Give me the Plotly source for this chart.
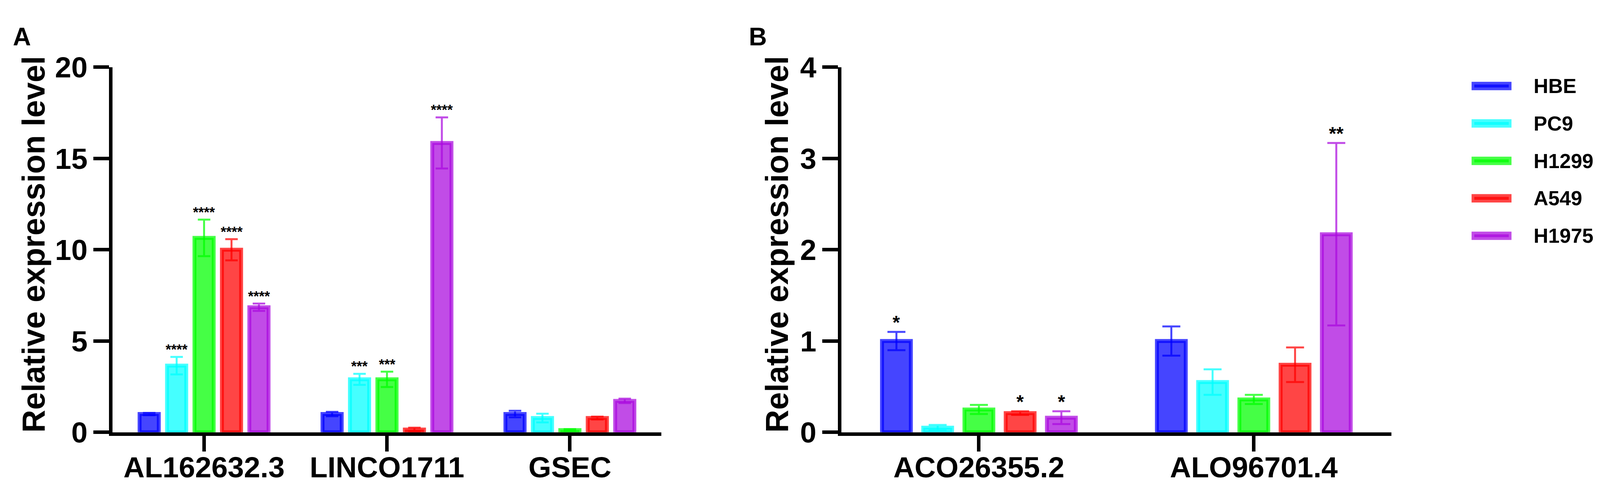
import numpy as np
import plotly.graph_objects as go

# cell lines (series) and their base colours
cells = ["HBE", "PC9", "H1299", "A549", "H1975"]
cell_rgb = ["0,0,255", "0,255,255", "0,255,0", "255,0,0", "170,10,222"]

# panel A
genes_a = ["AL162632.3", "LINCO1711", "GSEC"]
hbe_a = [1.0, 1.0, 1.0]
pc9_a = [3.65, 2.9, 0.78]
h1299_a = [10.65, 2.9, 0.12]
a549_a = [10.0, 0.15, 0.78]
h1975_a = [6.85, 15.85, 1.72]
hbe_a_sd = [0.06, 0.12, 0.18]
pc9_a_sd = [0.48, 0.3, 0.24]
h1299_a_sd = [1.0, 0.42, 0.05]
a549_a_sd = [0.58, 0.1, 0.08]
h1975_a_sd = [0.2, 1.4, 0.12]
hbe_a_sig = ["", "", ""]
pc9_a_sig = ["****", "***", ""]
h1299_a_sig = ["****", "***", ""]
a549_a_sig = ["****", "", ""]
h1975_a_sig = ["****", "****", ""]

# panel B
genes_b = ["ACO26355.2", "ALO96701.4"]
hbe_b = [1.0, 1.0]
pc9_b = [0.05, 0.55]
h1299_b = [0.25, 0.36]
a549_b = [0.21, 0.74]
h1975_b = [0.16, 2.17]
hbe_b_sd = [0.1, 0.16]
pc9_b_sd = [0.03, 0.14]
h1299_b_sd = [0.05, 0.05]
a549_b_sd = [0.02, 0.19]
h1975_b_sd = [0.07, 1.0]
hbe_b_sig = ["*", ""]
pc9_b_sig = ["", ""]
h1299_b_sig = ["", ""]
a549_b_sig = ["*", ""]
h1975_b_sig = ["*", "**"]

FONT = "Liberation Sans, Arial, Helvetica, sans-serif"
W, H = 4395, 1279
PITCH = 0.15
BAR_W = 0.105
ALPHA = 0.73

panels = [
    dict(xa="x", ya="y", genes=genes_a,
         means=[hbe_a, pc9_a, h1299_a, a549_a, h1975_a],
         sds=[hbe_a_sd, pc9_a_sd, h1299_a_sd, a549_a_sd, h1975_a_sd],
         sigs=[hbe_a_sig, pc9_a_sig, h1299_a_sig, a549_a_sig, h1975_a_sig],
         cap=16, star=36),
    dict(xa="x2", ya="y2", genes=genes_b,
         means=[hbe_b, pc9_b, h1299_b, a549_b, h1975_b],
         sds=[hbe_b_sd, pc9_b_sd, h1299_b_sd, a549_b_sd, h1975_b_sd],
         sigs=[hbe_b_sig, pc9_b_sig, h1299_b_sig, a549_b_sig, h1975_b_sig],
         cap=23, star=48),
]

fig = go.Figure()
notes = []
for p in panels:
    idx = np.arange(len(p["genes"]))
    for j, (cell, rgb) in enumerate(zip(cells, cell_rgb)):
        col = f"rgba({rgb},{ALPHA})"
        xpos = idx + (j - 2) * PITCH
        fig.add_trace(go.Bar(
            x=xpos, y=p["means"][j], width=BAR_W, name=cell, showlegend=False,
            marker=dict(color=col, line=dict(color=col, width=10)),
            error_y=dict(type="data", array=p["sds"][j], color=col,
                         thickness=5, width=p["cap"]),
            xaxis=p["xa"], yaxis=p["ya"]))
        for i, s in enumerate(p["sigs"][j]):
            if s:
                notes.append(dict(x=xpos[i], y=p["means"][j][i] + p["sds"][j][i],
                                  xref=p["xa"], yref=p["ya"], text=s, showarrow=False,
                                  yanchor="bottom", yshift=-4,
                                  font=dict(family=FONT, size=p["star"], color="black", weight="bold")))

# hand-made legend: wide swatches on the right
shapes = []
for k, (cell, rgb) in enumerate(zip(cells, cell_rgb)):
    col = f"rgba({rgb},{ALPHA})"
    yc = 182 + k * 102.5
    shapes.append(dict(type="rect", xref="paper", yref="paper",
                       x0=4057 / W, x1=4152 / W, y0=1 - (yc + 4) / H, y1=1 - (yc - 4) / H,
                       fillcolor=col, line=dict(color=col, width=14)))
    notes.append(dict(x=4218 / W, y=1 - yc / H, xref="paper", yref="paper", text=cell,
                      showarrow=False, xanchor="left", yanchor="middle",
                      font=dict(family=FONT, size=52, color="black", weight="bold")))

axis_style = dict(showline=True, linecolor="black", linewidth=9, ticks="outside",
                  ticklen=40, tickwidth=9, tickcolor="black", showgrid=False, zeroline=False,
                  tickfont=dict(family=FONT, size=75, color="black", weight="bold"))

fig.update_layout(
    autosize=True,
    margin=dict(l=0, r=0, t=0, b=0),
    paper_bgcolor="white", plot_bgcolor="white",
    barmode="overlay", showlegend=False,
    xaxis=dict(domain=[0.0687, 0.413], range=[-0.5, 2.5], tickvals=[0, 1, 2],
               ticktext=genes_a, anchor="y", ticklabelstandoff=-24, **axis_style),
    yaxis=dict(domain=[0.1165, 0.898], range=[0, 20], dtick=5, anchor="x", **axis_style),
    xaxis2=dict(domain=[0.526, 0.871], range=[-0.5, 1.5], tickvals=[0, 1],
                ticktext=genes_b, anchor="y2", ticklabelstandoff=-24, **axis_style),
    yaxis2=dict(domain=[0.1165, 0.898], range=[0, 4], dtick=1, anchor="x2", **axis_style),
    shapes=shapes,
)

title_font = dict(family=FONT, size=81, color="black", weight="bold")
notes += [
    dict(x=84 / W, y=0.519, xref="paper", yref="paper", text="Relative expression level",
         textangle=-90, showarrow=False, xanchor="center", yanchor="middle", font=title_font),
    dict(x=2134 / W, y=0.519, xref="paper", yref="paper", text="Relative expression level",
         textangle=-90, showarrow=False, xanchor="center", yanchor="middle", font=title_font),
    dict(x=25 / W, y=1 - 6 / H, xref="paper", yref="paper", text="A", showarrow=False,
         xanchor="left", yanchor="top", font=dict(family=FONT, size=64, color="black", weight="bold")),
    dict(x=2054 / W, y=1 - 6 / H, xref="paper", yref="paper", text="B", showarrow=False,
         xanchor="left", yanchor="top", font=dict(family=FONT, size=64, color="black", weight="bold")),
]
fig.update_layout(annotations=notes)

fig.write_html("out.html", default_width="100%", default_height="100vh")
